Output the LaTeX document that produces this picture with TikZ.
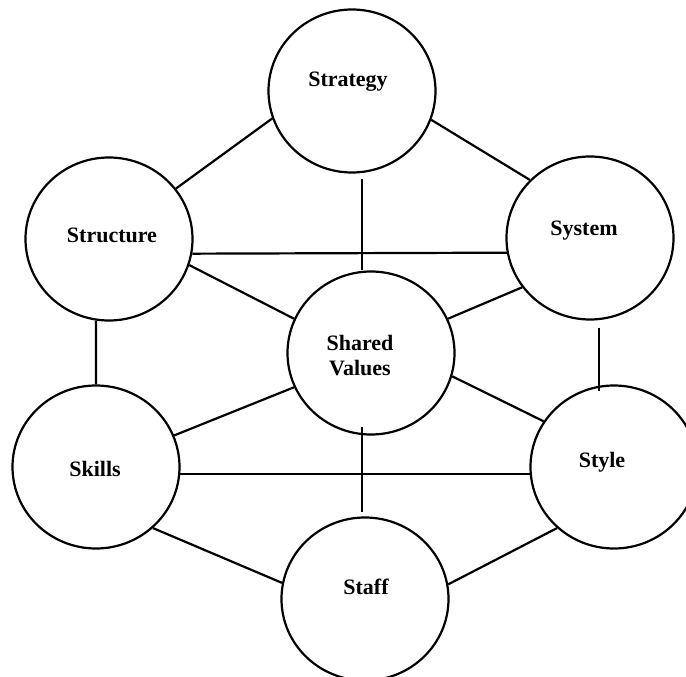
\documentclass[tikz,border=0pt]{standalone}
\usepackage{fontspec}
\setmainfont{Liberation Serif}
\usetikzlibrary{shapes.geometric,calc}
\begin{document}
\begin{tikzpicture}[x=1pt,y=-1pt,
  ring/.style={draw, ellipse, line width=2.2pt, minimum width=167pt,
    minimum height=163pt, inner sep=0pt},
  link/.style={line width=2.2pt},
  caption/.style={font=\bfseries\fontsize{22}{24.3}\selectfont, anchor=base,
    inner sep=0pt, align=center}]
\useasboundingbox (0,0) rectangle (686,677);
\clip (0,0) rectangle (686,677);

% the seven elements
\node[ring] (strategy)  at (352,91)  {};
\node[ring] (structure) at (109,239) {};
\node[ring] (system)    at (590,238) {};
\node[ring] (shared)    at (371,353) {};
\node[ring] (skills)    at (96,467)  {};
\node[ring] (style)     at (614,467) {};
\node[ring] (staff)     at (365,599) {};

% labels (base anchor: last baseline of each label)
\node[caption] (strategy-t)  at (348,87)  {Strategy};
\node[caption] (structure-t) at (112,242) {Structure};
\node[caption] (system-t)    at (584,235) {System};
\node[caption] (shared-t)    at (360,375) {Shared\\Values};
\node[caption] (skills-t)    at (95,476)  {Skills};
\node[caption] (style-t)     at (602,467) {Style};
\node[caption] (staff-t)     at (366,594) {Staff};

% connections
\draw[link] (strategy.199) -- (structure.37);
\draw[link] (strategy.-20) -- (system.136);
\draw[link] ($(strategy.south)+(10,5)$) -- ($(shared.north)+(-9,0)$);
\draw[link] (structure.-10) -- (system.190);
\draw[link] (structure.-18) -- (shared.156);
\draw[link] (structure.261) -- (skills.north);
\draw[link] (system.216) -- (shared.24);
\draw[link] ($(system.south)+(9,7)$) -- ($(style.north)+(-15,7)$);
\draw[link] (shared.204) -- (skills.22);
\draw[link] (shared.-16) -- (style.147);
\draw[link] ($(shared.south)+(-9,-9)$) -- ($(staff.north)+(-3,-4)$);
\draw[link] (skills.-5) -- (style.185);
\draw[link] (skills.-47) -- (staff.169);
\draw[link] (style.227) -- (staff.10);
\end{tikzpicture}
\end{document}
